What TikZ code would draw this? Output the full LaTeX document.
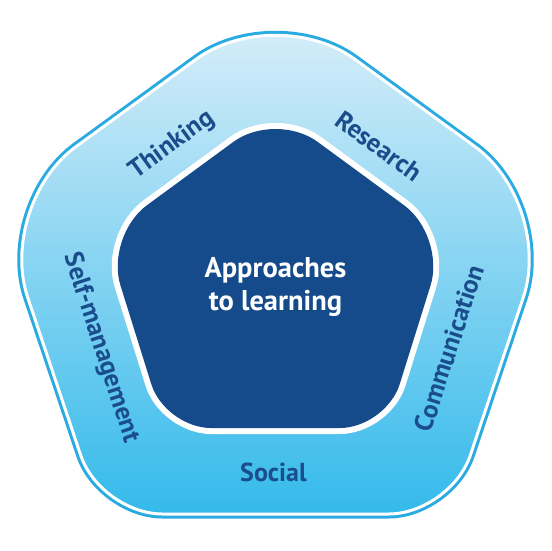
\documentclass[tikz,border=0pt]{standalone}
\usepackage{fontspec}
\setmainfont{PT Sans}
\usetikzlibrary{calc}
\definecolor{rimblue}{RGB}{41,171,226}
\definecolor{corenavy}{RGB}{22,75,139}
\definecolor{labelblue}{RGB}{27,77,140}
\definecolor{toplight}{RGB}{214,237,249}
\definecolor{midlight}{RGB}{160,216,242}
\definecolor{botblue}{RGB}{52,186,235}
\newcommand\rcornerto[4]{-- ($(#1)!#4!(#2)$) .. controls ($(#1)!#4*0.448!(#2)$) and ($(#1)!#4*0.448!(#3)$) .. ($(#1)!#4!(#3)$)}
\tikzset{
  lbl/.style={font=\bfseries\fontsize{26}{30}\selectfont, text=labelblue, inner sep=0pt},
  corelbl/.style={font=\bfseries\fontsize{28.5}{33}\selectfont, text=white, align=center, inner sep=0pt}
}
\begin{document}
\begin{tikzpicture}[x=1pt,y=-1pt]
\useasboundingbox (0,0) rectangle (551,551);
\fill[white] (0,0) rectangle (551,551);
% outer band geometry
\coordinate (oT) at (275.5,1.5);
\coordinate (oL) at (-3.5,204.5);
\coordinate (oR) at (554.5,204.5);
\coordinate (oBL) at (100.4,514);
\coordinate (oBR) at (450.6,514);
\coordinate (oM) at (275.5,514);
% inner core geometry
\coordinate (iT) at (275.5,111);
\coordinate (iL) at (105,236);
\coordinate (iR) at (446,236);
\coordinate (iBL) at (165,428);
\coordinate (iBR) at (386,428);
\coordinate (iM) at (275.5,428);
% outer rim
\draw[rimblue, line width=9pt] (oM) \rcornerto{oBL}{oBR}{oL}{62pt} \rcornerto{oL}{oBL}{oT}{98pt} \rcornerto{oT}{oL}{oR}{98pt} \rcornerto{oR}{oT}{oBR}{98pt} \rcornerto{oBR}{oR}{oBL}{62pt} -- cycle;
\shade[top color=toplight, middle color=midlight, bottom color=botblue] (oM) \rcornerto{oBL}{oBR}{oL}{62pt} \rcornerto{oL}{oBL}{oT}{98pt} \rcornerto{oT}{oL}{oR}{98pt} \rcornerto{oR}{oT}{oBR}{98pt} \rcornerto{oBR}{oR}{oBL}{62pt} -- cycle;
\draw[white, line width=3pt] (oM) \rcornerto{oBL}{oBR}{oL}{62pt} \rcornerto{oL}{oBL}{oT}{98pt} \rcornerto{oT}{oL}{oR}{98pt} \rcornerto{oR}{oT}{oBR}{98pt} \rcornerto{oBR}{oR}{oBL}{62pt} -- cycle;
% inner core
\draw[white, line width=12pt] (iM) \rcornerto{iBL}{iBR}{iL}{46pt} \rcornerto{iL}{iBL}{iT}{52pt} \rcornerto{iT}{iL}{iR}{52pt} \rcornerto{iR}{iT}{iBR}{52pt} \rcornerto{iBR}{iR}{iBL}{46pt} -- cycle;
\fill[corenavy] (iM) \rcornerto{iBL}{iBR}{iL}{46pt} \rcornerto{iL}{iBL}{iT}{52pt} \rcornerto{iT}{iL}{iR}{52pt} \rcornerto{iR}{iT}{iBR}{52pt} \rcornerto{iBR}{iR}{iBL}{46pt} -- cycle;
% labels
\node[corelbl] (core) at (275.5,287) {Approaches\\to learning};
\node[lbl, rotate=36] (think) at (172,145) {Thinking};
\node[lbl, rotate=-36] (res) at (379,146) {Research};
\node[lbl, rotate=-72] (self) at (101,348) {Self-management};
\node[lbl, rotate=72] (comm) at (449,348) {Communication};
\node[lbl] (soc) at (273.5,472) {Social};
\end{tikzpicture}
\end{document}
